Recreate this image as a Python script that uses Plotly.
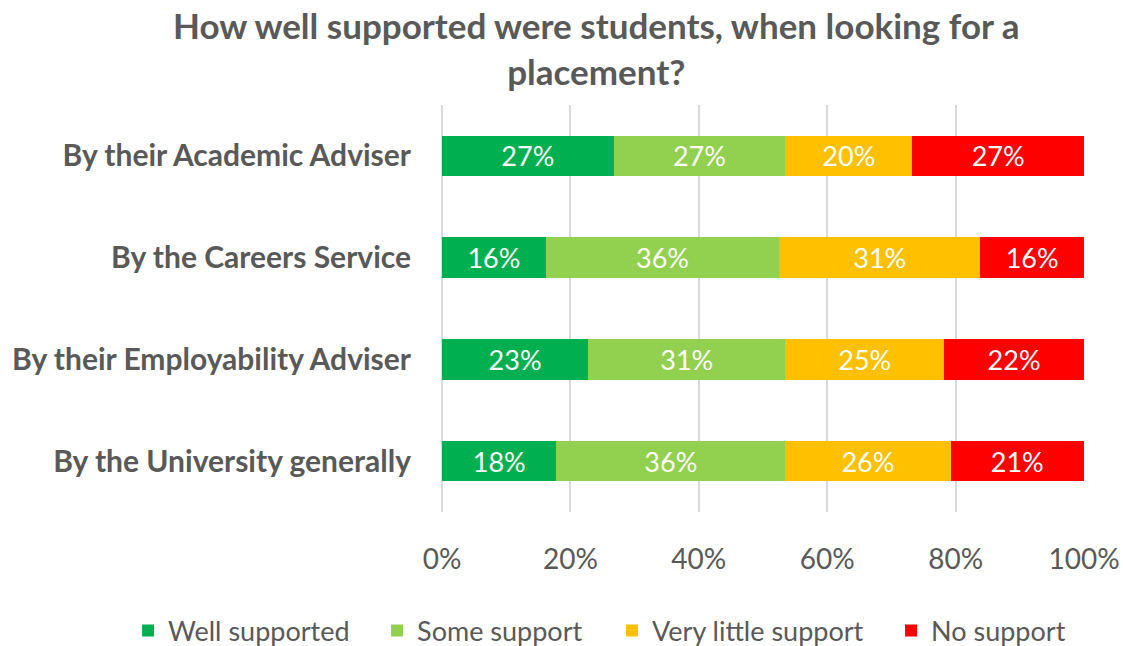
import plotly.graph_objects as go

categories = [
    "By their Academic Adviser",
    "By the Careers Service",
    "By their Employability Adviser",
    "By the University generally",
]
series_names = ["Well supported", "Some support", "Very little support", "No support"]
well_supported = [27, 16, 23, 18]
some_support = [27, 36, 31, 36]
very_little_support = [20, 31, 25, 26]
no_support = [27, 16, 22, 21]
x_tick_vals = [0, 20, 40, 60, 80, 100]
x_tick_text = ["0%", "20%", "40%", "60%", "80%", "100%"]
title_text = "How well supported were students, when looking for a<br>placement?"

colors = ["#00B050", "#92D050", "#FFC000", "#FF0000"]
legend_widths = [204, 190, 234, 150]
values = [well_supported, some_support, very_little_support, no_support]

FONT = "Lato, 'Open Sans', sans-serif"
GREY = "#595959"

fig = go.Figure()
for name, vals, col, lw in zip(series_names, values, colors, legend_widths):
    fig.add_trace(go.Bar(
        y=categories,
        x=vals,
        name=name,
        orientation="h",
        marker=dict(color=col, line=dict(width=0)),
        text=[f"{v}%" for v in vals],
        textposition="inside",
        insidetextanchor="middle",
        textangle=0,
        textfont=dict(family=FONT, size=27, color="white"),
        width=0.4,
        legendwidth=lw,
    ))

# Two-line chart heading
fig.add_annotation(
    text=f"<b>{title_text}</b>",
    xref="paper", yref="paper",
    x=0.24, xanchor="center",
    y=1.141, yanchor="middle",
    showarrow=False,
    align="center",
    font=dict(family=FONT, size=35, color=GREY),
)

fig.update_layout(
    barmode="stack",
    barnorm="percent",
    width=1123,
    height=646,
    margin=dict(l=442, r=39, t=105, b=134, autoexpand=False),
    paper_bgcolor="white",
    plot_bgcolor="white",
    font=dict(family=FONT, color=GREY),
    legend=dict(
        orientation="h",
        x=-0.489, xanchor="left",
        y=-0.292, yanchor="middle",
        font=dict(family=FONT, size=27, color=GREY),
        traceorder="normal",
        itemwidth=30,
    ),
    uniformtext=dict(mode=False),
)
fig.update_xaxes(
    range=[0, 100],
    tickvals=x_tick_vals,
    ticktext=x_tick_text,
    showgrid=True,
    gridcolor="#D9D9D9",
    gridwidth=1.5,
    zeroline=True,
    zerolinecolor="#D9D9D9",
    zerolinewidth=1.5,
    showline=False,
    tickfont=dict(family=FONT, size=28, color=GREY),
    ticks="",
    ticklabelstandoff=28,
    fixedrange=True,
)
fig.update_yaxes(
    categoryorder="array",
    categoryarray=categories,
    autorange="reversed",
    showgrid=False,
    showline=False,
    ticks="",
    tickfont=dict(family=FONT, size=30, color=GREY, weight="bold"),
    ticklabelstandoff=30,
)

fig.write_html("out.html")
